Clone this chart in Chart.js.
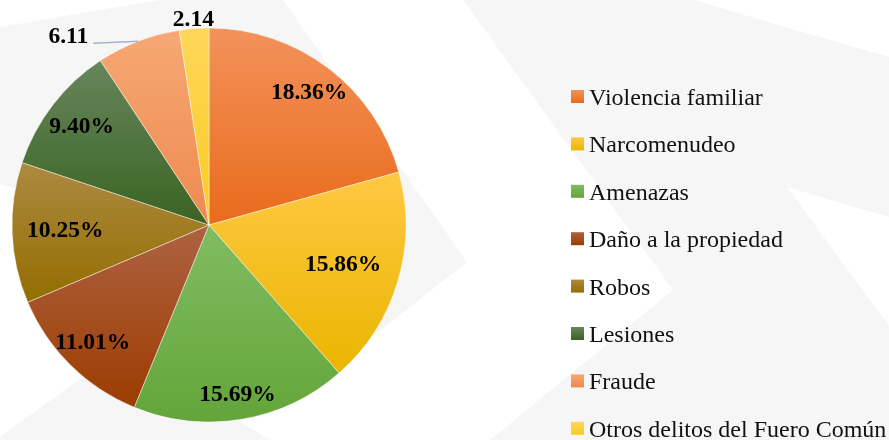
<!DOCTYPE html>
<html>
<head>
<meta charset="utf-8">
<script src="https://cdn.jsdelivr.net/npm/chart.js@4.4.1/dist/chart.umd.min.js"></script>
<style>
  html, body { margin: 0; padding: 0; background: #fff; }
  #wrap { position: relative; width: 889px; height: 440px; }
</style>
</head>
<body>
<div id="wrap"><canvas id="chart"></canvas></div>
<script>
const categories = ["Violencia familiar", "Narcomenudeo", "Amenazas", "Daño a la propiedad", "Robos", "Lesiones", "Fraude", "Otros delitos del Fuero Común"];
const values = [18.36, 15.86, 15.69, 11.01, 10.25, 9.40, 6.11, 2.14];
const valueLabels = ["18.36%", "15.86%", "15.69%", "11.01%", "10.25%", "9.40%", "6.11", "2.14"];

// each slice is shaded from a lighter top to a darker bottom
const topColors = ["#F3925B", "#FFC843", "#82BC62", "#AE6242", "#AE8942", "#66865C", "#F6A874", "#FFD65A"];
const bottomColors = ["#E96B1C", "#EAB600", "#63A539", "#9C3C00", "#936E00", "#3B6322", "#EE8A4F", "#F9CB22"];

const FONT = '"Liberation Serif", "Times New Roman", serif';

function arcBounds(arc) {
  const { x, y, startAngle, endAngle, outerRadius } = arc;
  let top = y, bottom = y;
  [startAngle, endAngle].forEach(a => {
    const py = y + Math.sin(a) * outerRadius;
    top = Math.min(top, py);
    bottom = Math.max(bottom, py);
  });
  const within = a => {
    let t = a;
    while (t < startAngle) t += Math.PI * 2;
    return t <= endAngle;
  };
  if (within(-Math.PI / 2)) top = y - outerRadius;
  if (within(Math.PI / 2)) bottom = y + outerRadius;
  return { top, bottom };
}

// faint watermark shapes behind the chart
const backdrop = {
  id: 'backdrop',
  beforeDraw(chart) {
    const ctx = chart.ctx;
    const shapes = [
      [[0, 27], [160, 0], [283, 0], [467, 262], [345, 358], [209, 225], [0, 185]],
      [[0, 440], [0, 437], [120, 350], [270, 440]],
      [[463, 0], [693, 0], [889, 57], [889, 440], [490, 440], [673, 290]]
    ];
    ctx.save();
    ctx.fillStyle = '#f6f6f6';
    shapes.forEach(pts => {
      ctx.beginPath();
      pts.forEach((p, i) => i ? ctx.lineTo(p[0], p[1]) : ctx.moveTo(p[0], p[1]));
      ctx.closePath();
      ctx.fill();
    });
    ctx.fillStyle = '#ffffff';
    ctx.beginPath();
    ctx.moveTo(787, 187); ctx.lineTo(889, 217); ctx.lineTo(889, 326);
    ctx.closePath();
    ctx.fill();
    ctx.restore();
  }
};

const sliceShading = {
  id: 'sliceShading',
  beforeDatasetsDraw(chart) {
    const ctx = chart.ctx;
    chart.getDatasetMeta(0).data.forEach((arc, i) => {
      const b = arcBounds(arc);
      const g = ctx.createLinearGradient(0, b.top, 0, b.bottom);
      g.addColorStop(0, topColors[i]);
      g.addColorStop(1, bottomColors[i]);
      arc.options.backgroundColor = g;
    });
  }
};

const sliceLabels = {
  id: 'sliceLabels',
  afterDatasetsDraw(chart, args, opts) {
    const ctx = chart.ctx;
    ctx.save();
    ctx.font = 'bold 23.5px ' + FONT;
    ctx.fillStyle = '#000';
    chart.getDatasetMeta(0).data.forEach((arc, i) => {
      const mid = (arc.startAngle + arc.endAngle) / 2;
      const r = arc.outerRadius;
      if (opts.leader[i]) {
        const ex = arc.x + Math.cos(mid) * r;
        const ey = arc.y + Math.sin(mid) * r;
        const lx = ex - 45, ly = ey + 2;
        ctx.strokeStyle = '#A6B4C8';
        ctx.lineWidth = 1.5;
        ctx.beginPath();
        ctx.moveTo(ex, ey);
        ctx.lineTo(lx, ly);
        ctx.stroke();
        ctx.textAlign = 'right';
        ctx.textBaseline = 'alphabetic';
        ctx.fillText(valueLabels[i], lx - 5, ly);
        return;
      }
      const f = opts.radius[i];
      ctx.textAlign = 'center';
      ctx.textBaseline = 'middle';
      ctx.fillText(valueLabels[i], arc.x + Math.cos(mid) * r * f, arc.y + Math.sin(mid) * r * f);
    });
    ctx.restore();
  }
};

const sideLegend = {
  id: 'sideLegend',
  afterDraw(chart, args, opts) {
    const ctx = chart.ctx;
    ctx.save();
    ctx.font = '24px ' + FONT;
    ctx.textAlign = 'left';
    ctx.textBaseline = 'alphabetic';
    chart.data.labels.forEach((label, i) => {
      const cy = opts.top + i * opts.step;
      const g = ctx.createLinearGradient(0, cy - 6.5, 0, cy + 6.5);
      g.addColorStop(0, topColors[i]);
      g.addColorStop(1, bottomColors[i]);
      ctx.fillStyle = g;
      ctx.fillRect(opts.x, cy - 6.5, 13, 13);
      ctx.fillStyle = '#111';
      ctx.fillText(label, opts.x + 18, cy + 8.5);
    });
    ctx.restore();
  }
};

new Chart(document.getElementById('chart'), {
  type: 'pie',
  data: {
    labels: categories,
    datasets: [{
      data: values,
      backgroundColor: ctx => topColors[ctx.dataIndex],
      borderColor: 'rgba(255,255,255,0.45)',
      borderWidth: 1
    }]
  },
  options: {
    responsive: true,
    maintainAspectRatio: false,
    animation: false,
    events: [],
    radius: 197,
    layout: { padding: { left: 11, right: 482, top: 28, bottom: 18 } },
    plugins: {
      legend: { display: false },
      tooltip: { enabled: false },
      sliceLabels: {
        radius: [0.84, 0.71, 0.875, 0.84, 0.73, 0.815, 0, 1.045],
        leader: [false, false, false, false, false, false, true, false]
      },
      sideLegend: { x: 571, top: 96.5, step: 47.4 }
    }
  },
  plugins: [backdrop, sliceShading, sliceLabels, sideLegend]
});
</script>
</body>
</html>
